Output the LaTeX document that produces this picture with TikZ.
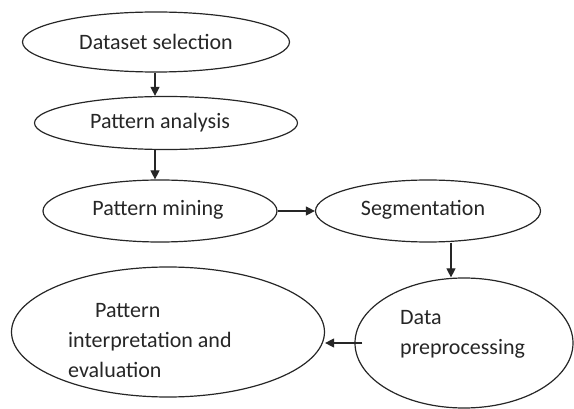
\documentclass[tikz,border=0pt]{standalone}
\usepackage{fontspec}
\setmainfont{Carlito}
\usetikzlibrary{shapes.geometric,arrows.meta,calc}
\begin{document}
\begin{tikzpicture}[x=1pt,y=-1pt,
  oval/.style={draw=black!85,line width=1.2pt,ellipse,inner sep=0pt},
  lbl/.style={inner sep=0pt,font=\fontsize{22}{30}\selectfont,text=black!85},
  flow/.style={draw=black!85,line width=1.2pt,-{Triangle[length=9pt,width=9pt]}}]
\useasboundingbox (0,0) rectangle (574,409);
\node[oval,minimum width=267pt,minimum height=60pt] (e1) at (156,42) {};
\node[oval,minimum width=263pt,minimum height=53pt] (e2) at (166,123) {};
\node[oval,minimum width=234pt,minimum height=62pt] (e3) at (160,211) {};
\node[oval,minimum width=225pt,minimum height=62pt] (e4) at (428,211) {};
\node[oval,minimum width=218pt,minimum height=130pt] (e6) at (464,343) {};
\node[oval,minimum width=313pt,minimum height=130pt] (e5) at (168,332) {};
\node[lbl] (t1) at (156,42) {Dataset selection};
\node[lbl] (t2) at (160,123) {Pattern analysis};
\node[lbl] (t3) at (158,210) {Pattern mining};
\node[lbl] (t4) at (423,210) {Segmentation};
\node[lbl,align=left,anchor=west] (t6) at (400,334) {Data\\preprocessing};
\node[lbl,align=left,anchor=west] (t5) at (68,341) {\hspace{27pt}Pattern\\interpretation and\\evaluation};
\draw[flow] ([xshift=-1pt]e1.south) -- ([xshift=-11pt]e2.north);
\draw[flow] ([xshift=-11pt]e2.south) -- ([xshift=-5pt]e3.north);
\draw[flow] (e3.east) -- (e4.west);
\draw[flow] ([xshift=23pt]e4.south) -- ([xshift=-13pt]e6.north);
\draw[flow] ([xshift=8pt]e6.west) -- (e5.east |- e6.west);
\end{tikzpicture}
\end{document}
